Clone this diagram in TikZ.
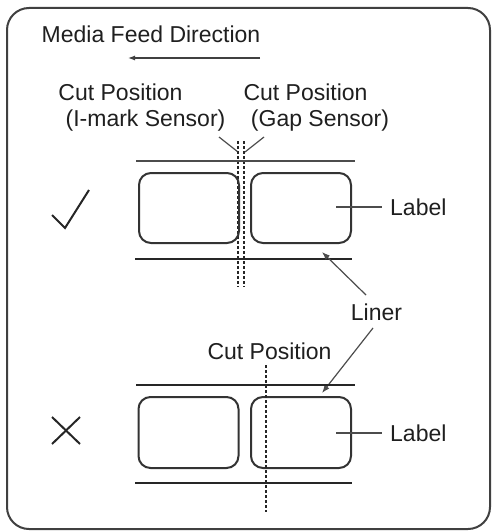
\documentclass[tikz,border=0pt]{standalone}
\usepackage{fontspec}
\setmainfont{Liberation Sans}
\usetikzlibrary{arrows.meta}
\begin{document}
\begin{tikzpicture}[x=1pt,y=-1pt,
  txt/.style={font=\fontsize{23}{26}\selectfont, text=black!88, inner sep=0pt},
  lbox/.style={draw=black!80, line width=2pt, rounded corners=12pt, minimum width=100pt, minimum height=70pt, inner sep=0pt},
  thinline/.style={draw=black!70, line width=1.2pt},
  thickline/.style={draw=black!85, line width=2.2pt},
  cutline/.style={draw=black!85, line width=1.4pt, dash pattern=on 3pt off 2pt},
  ptr/.style={draw=black!70, line width=1.2pt, -{Latex[length=8pt,width=6pt]}},
  signstroke/.style={draw=black!85, line width=2pt}
]
\useasboundingbox (0,0) rectangle (493,532);
\draw[line width=2pt, draw=black!75, rounded corners=22pt] (7,8) rectangle (490,529);

% header
\node[txt] (mfd) at (151,34) {Media Feed Direction};
\coordinate (fa) at (260,58);
\coordinate (fb) at (128,58);
\draw[draw=black!75, line width=1.2pt, -{Latex[length=7pt,width=5pt]}] (fa) -- (fb);

% top panel
\node[txt] (cp1) at (120.5,92) {Cut Position};
\node[txt] (im) at (145.5,121) {(I-mark Sensor)};
\node[txt] (cp2) at (305.5,92) {Cut Position};
\node[txt] (gs) at (320,121) {(Gap Sensor)};
\coordinate (l1a) at (219,137); \coordinate (l1b) at (238,152);
\coordinate (l2a) at (264,137); \coordinate (l2b) at (245,152);
\draw[thinline] (l1a) -- (l1b);
\draw[thinline] (l2a) -- (l2b);
\coordinate (d1a) at (238,141); \coordinate (d1b) at (238,287);
\coordinate (d2a) at (244,141); \coordinate (d2b) at (244,287);
\draw[cutline] (d1a) -- (d1b);
\draw[cutline] (d2a) -- (d2b);
\coordinate (t1a) at (136,161); \coordinate (t1b) at (355,161);
\draw[thinline] (t1a) -- (t1b);
\node[lbox] (la1) at (189,208) {};
\node[lbox] (lb1) at (301,208) {};
\coordinate (b1a) at (135,259); \coordinate (b1b) at (352,259);
\draw[thickline] (b1a) -- (b1b);
\coordinate (c1) at (52,215); \coordinate (c2) at (65,228); \coordinate (c3) at (89,190);
\draw[signstroke] (c1) -- (c2) -- (c3);
\node[txt, anchor=west] (lab1) at (390,207) {Label};
\coordinate (lp1) at (336,207);
\draw[thinline] (lp1) -- ([xshift=-8pt]lab1.west);

% liner
\node[txt] (liner) at (376.5,312) {Liner};
\coordinate (a1s) at (366,295); \coordinate (a1e) at (322,252);
\coordinate (a2s) at (373,328); \coordinate (a2e) at (322,393);
\draw[ptr] (a1s) -- (a1e);
\draw[ptr] (a2s) -- (a2e);

% bottom panel
\node[txt] (cp3) at (269.5,351) {Cut Position};
\coordinate (t2a) at (136,385); \coordinate (t2b) at (355,385);
\draw[thickline] (t2a) -- (t2b);
\node[lbox, minimum height=71pt] (la2) at (188.5,432.5) {};
\node[lbox, minimum height=71pt] (lb2) at (301,432.5) {};
\coordinate (b2a) at (135,483); \coordinate (b2b) at (352,483);
\draw[thickline] (b2a) -- (b2b);
\coordinate (d3a) at (266,365); \coordinate (d3b) at (266,512);
\draw[cutline, line width=1.2pt] (d3a) -- (d3b);
\node[txt, anchor=west] (lab2) at (390,433) {Label};
\coordinate (lp2) at (336,433);
\draw[thinline] (lp2) -- ([xshift=-8pt]lab2.west);
\coordinate (x1) at (52,417); \coordinate (x2) at (80,444);
\coordinate (x3) at (52,444); \coordinate (x4) at (80,417);
\draw[signstroke] (x1) -- (x2);
\draw[signstroke] (x3) -- (x4);
\end{tikzpicture}
\end{document}
